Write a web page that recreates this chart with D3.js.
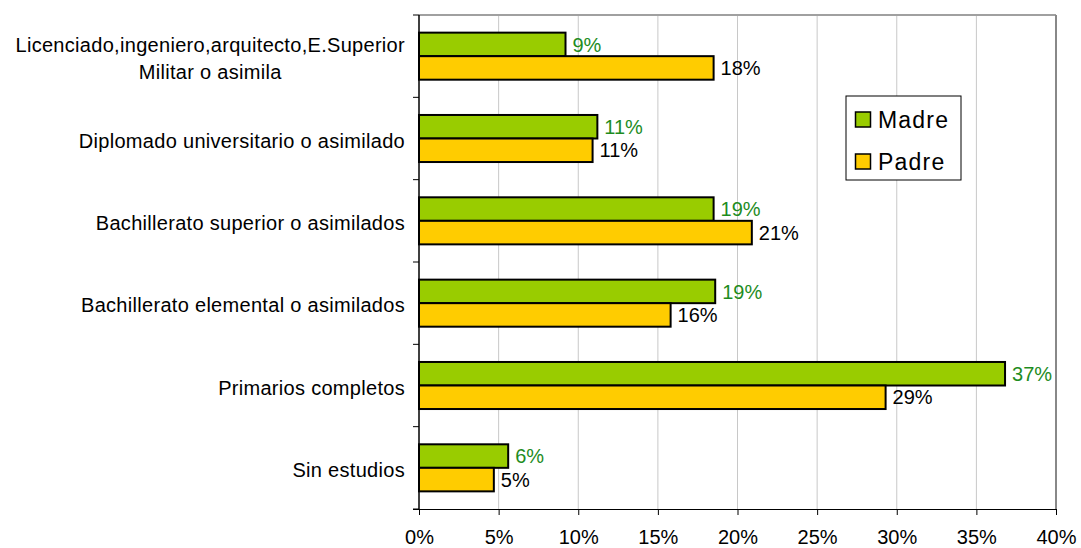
<!DOCTYPE html>
<html>
<head>
<meta charset="utf-8">
<script src="https://cdn.jsdelivr.net/npm/d3@7"></script>
<style>
  body { margin: 0; background: #fff; }
  svg { font-family: "Liberation Sans", Arial, sans-serif; }
</style>
</head>
<body>
<svg width="1081" height="548"></svg>
<script>
var categories = [
    "Licenciado,ingeniero,arquitecto,E.Superior\nMilitar o asimila",
    "Diplomado universitario o asimilado",
    "Bachillerato superior o asimilados",
    "Bachillerato elemental o asimilados",
    "Primarios completos",
    "Sin estudios"
];
var madre = [9.2, 11.2, 18.5, 18.6, 36.8, 5.6];
var padre = [18.5, 10.9, 20.9, 15.8, 29.3, 4.7];
var madreLabels = ["9%", "11%", "19%", "19%", "37%", "6%"];
var padreLabels = ["18%", "11%", "21%", "16%", "29%", "5%"];
var xTicks = [0, 5, 10, 15, 20, 25, 30, 35, 40];
var seriesNames = ["Madre", "Padre"];

var w = 1081, h = 548;
var margin = { left: 419, right: 25, top: 15, bottom: 39 };
var figw = w - margin.left - margin.right;
var figh = h - margin.top - margin.bottom;
var fs = 20;

var svg = d3.select("svg");

var x = d3.scaleLinear().domain([0, 40]).range([margin.left, margin.left + figw]);
var y = d3.scaleBand().domain(categories).range([margin.top, margin.top + figh]);
var inner = d3.scaleBand().domain(seriesNames).range([0, y.bandwidth()]).paddingOuter(0.75).paddingInner(0);

var colors = { Madre: "#99cc00", Padre: "#ffcc00" };

// gridlines
svg.append("g").selectAll("line")
    .data(xTicks.slice(1, -1))
    .enter().append("line")
    .attr("x1", function(d) { return x(d); })
    .attr("x2", function(d) { return x(d); })
    .attr("y1", margin.top)
    .attr("y2", margin.top + figh)
    .attr("stroke", "#c8c8c8")
    .attr("stroke-width", 1);

// top & right frame (gray)
svg.append("line")
    .attr("x1", margin.left).attr("x2", x(40))
    .attr("y1", margin.top).attr("y2", margin.top)
    .attr("stroke", "#a0a0a0").attr("stroke-width", 2);
svg.append("line")
    .attr("x1", x(40)).attr("x2", x(40))
    .attr("y1", margin.top).attr("y2", margin.top + figh)
    .attr("stroke", "#888").attr("stroke-width", 2);

// bars
var rows = categories.map(function(c, i) {
    return [
        { cat: c, s: "Madre", v: madre[i], lab: madreLabels[i] },
        { cat: c, s: "Padre", v: padre[i], lab: padreLabels[i] }
    ];
});
var flat = [].concat.apply([], rows);

svg.append("g").selectAll("rect")
    .data(flat)
    .enter().append("rect")
    .attr("x", x(0))
    .attr("y", function(d) { return y(d.cat) + inner(d.s); })
    .attr("width", function(d) { return x(d.v) - x(0); })
    .attr("height", inner.bandwidth())
    .attr("fill", function(d) { return colors[d.s]; })
    .attr("stroke", "#000")
    .attr("stroke-width", 2);

// data labels
svg.append("g").selectAll("text")
    .data(flat)
    .enter().append("text")
    .attr("x", function(d) { return x(d.v) + 7; })
    .attr("y", function(d) { return y(d.cat) + inner(d.s) + inner.bandwidth() / 2; })
    .attr("dy", "0.36em")
    .attr("font-size", fs)
    .attr("fill", function(d) { return d.s === "Madre" ? "#1e8c1e" : "#000"; })
    .text(function(d) { return d.lab; });

// x axis
var xAxis = d3.axisBottom(x).tickValues(xTicks).tickSize(6).tickPadding(15)
    .tickFormat(function(d) { return d + "%"; });
var gx = svg.append("g")
    .attr("transform", "translate(0," + (margin.top + figh) + ")")
    .call(xAxis);
gx.select(".domain").attr("d", "M" + (x(0) - 6) + ",0.5H" + x(40)).attr("stroke", "#000");
gx.selectAll(".tick line").attr("stroke", "#000");
gx.selectAll(".tick text").attr("font-size", fs).attr("fill", "#000")
    .attr("font-family", "Liberation Sans, Arial, sans-serif");

// y axis
var yTickPos = d3.range(categories.length + 1).map(function(i) { return margin.top + i * y.step(); });
svg.append("g").selectAll("line")
    .data(yTickPos)
    .enter().append("line")
    .attr("x1", x(0) - 6).attr("x2", x(0))
    .attr("y1", function(d) { return d; }).attr("y2", function(d) { return d; })
    .attr("stroke", "#000");
svg.append("line")
    .attr("x1", x(0)).attr("x2", x(0))
    .attr("y1", margin.top).attr("y2", margin.top + figh)
    .attr("stroke", "#000").attr("stroke-width", 1.5);

// category labels
var catG = svg.append("g");
categories.forEach(function(c) {
    var lines = c.split("\n");
    var t = catG.append("text")
        .attr("font-size", fs)
        .attr("letter-spacing", 0.3)
        .attr("fill", "#000");
    var cy = y(c) + y.bandwidth() / 2;
    lines.forEach(function(l, i) {
        t.append("tspan")
            .attr("y", cy + 2 + (i - (lines.length - 1) / 2) * 27)
            .attr("dy", "0.36em")
            .text(l);
    });
    var maxW = 0;
    t.selectAll("tspan").each(function() { maxW = Math.max(maxW, this.getComputedTextLength()); });
    t.attr("text-anchor", "middle");
    t.selectAll("tspan").attr("x", 405 - maxW / 2);
});

// legend
var lg = svg.append("g").attr("transform", "translate(846,96)");
lg.append("rect").attr("width", 115).attr("height", 84)
    .attr("fill", "#fff").attr("stroke", "#000").attr("stroke-width", 1);
seriesNames.forEach(function(s, i) {
    lg.append("rect")
        .attr("x", 9.5).attr("y", 16 + i * 42)
        .attr("width", 15).attr("height", 15)
        .attr("fill", colors[s]).attr("stroke", "#000").attr("stroke-width", 1.5);
    lg.append("text")
        .attr("x", 32).attr("y", 23.5 + i * 42)
        .attr("dy", "0.36em")
        .attr("font-size", 23)
        .attr("letter-spacing", 1.2)
        .text(s);
});
</script>
</body>
</html>
